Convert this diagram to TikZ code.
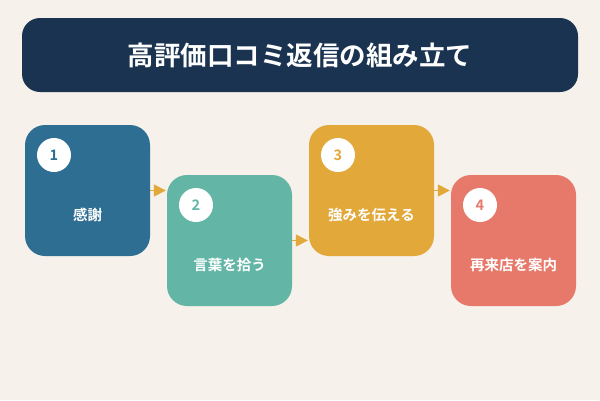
\documentclass[tikz,border=0pt]{standalone}
\usepackage{fontspec}
\setmainfont{Noto Sans CJK JP}
\newfontfamily\jpb{Noto Sans CJK JP Bold}
\usetikzlibrary{arrows.meta}
\definecolor{bg}{HTML}{F6F1EA}
\definecolor{navy}{HTML}{1A3350}
\definecolor{cA}{HTML}{2E6E93}
\definecolor{cB}{HTML}{63B5A6}
\definecolor{cC}{HTML}{E3A83A}
\definecolor{cD}{HTML}{E6796A}
\begin{document}
\begin{tikzpicture}[x=1pt,y=-1pt,
  stepbox/.style={fill=#1, rounded corners=20pt, minimum width=125pt, minimum height=131pt, inner sep=0pt, draw=none},
  numc/.style={circle, fill=white, minimum size=34pt, inner sep=0pt, text=#1, font=\jpb\fontsize{14.5}{16}\selectfont},
  lbl/.style={text=white, font=\jpb\fontsize{14.5}{17}\selectfont},
  arr/.style={draw=cC, line width=1.5pt, -{Triangle[length=12pt,width=12pt]}, shorten >=1pt}]
\fill[bg] (0,0) rectangle (600,400);
\useasboundingbox (0,0) rectangle (600,400);
\node[fill=navy, rounded corners=18pt, minimum width=556pt, minimum height=74pt, inner sep=0pt] (title) at (300,55) {};
\node[text=white, font=\jpb\fontsize{26.5}{30}\selectfont] (tt) at (title.center) {高評価口コミ返信の組み立て};
\node[stepbox=cA] (b1) at (87.5,190.5) {};
\node[stepbox=cB] (b2) at (229.5,240.5) {};
\node[stepbox=cC] (b3) at (371.5,190.5) {};
\node[stepbox=cD] (b4) at (513.5,240.5) {};
\node[numc=cA] (n1) at (54,155) {1};
\node[numc=cB] (n2) at (196,205) {2};
\node[numc=cC] (n3) at (338,155) {3};
\node[numc=cD] (n4) at (480,205) {4};
\node[lbl] (t1) at (87.5,215) {感謝};
\node[lbl] (t2) at (229.5,265) {言葉を拾う};
\node[lbl] (t3) at (371.5,215) {強みを伝える};
\node[lbl] (t4) at (513.5,265) {再来店を案内};
\draw[arr] (b1.east) -- (b2.west |- b1.east);
\draw[arr] (b2.east) -- (b3.west |- b2.east);
\draw[arr] (b3.east) -- (b4.west |- b3.east);
\end{tikzpicture}
\end{document}
